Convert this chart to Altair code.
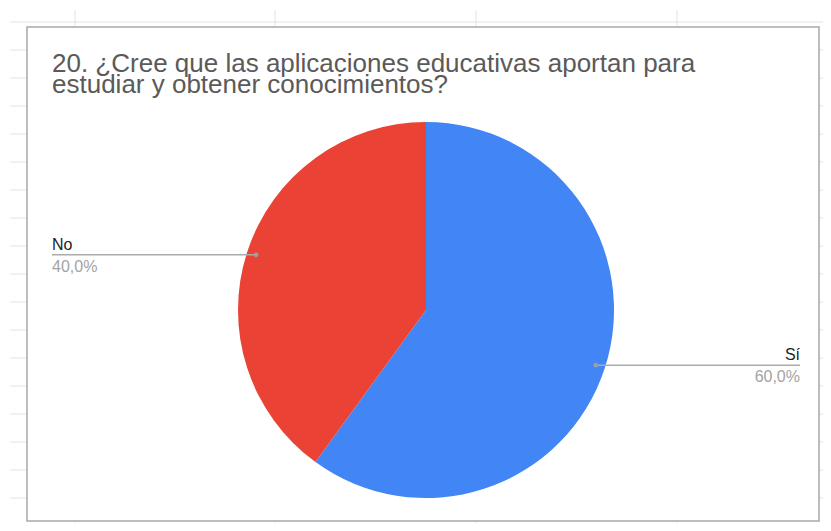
import altair as alt
import pandas as pd

# ---- data ----
respuestas = ["Sí", "No"]
valores = [60, 40]
orden = [0, 1]
colores = ["#4285F4", "#EA4335"]

titulo = ["20. ¿Cree que las aplicaciones educativas aportan para",
          "estudiar y obtener conocimientos?"]

# ---- layout (pixels, relative to the chart box) ----
W, H = 792, 494
CX, CY, R = 399, 283, 188
LX, RX = 25, 773
FONT = "Liberation Sans"

df = pd.DataFrame({"respuesta": respuestas, "valor": valores, "orden": orden})
df_titulo = pd.DataFrame({"t": ["\n".join(titulo)]})

grid_y = pd.DataFrame({"gy": [-5 + 28 * k for k in range(19)]})
grid_x = pd.DataFrame({"gx": [48, 248, 449, 650]})

hgrid = alt.Chart(grid_y).mark_rule(color="#e3e3e3", strokeWidth=1).encode(
    y=alt.Y("gy:Q", scale=None), x=alt.value(-17), x2=alt.value(W + 12))
vgrid = alt.Chart(grid_x).mark_rule(color="#e3e3e3", strokeWidth=1).encode(
    x=alt.X("gx:Q", scale=None), y=alt.value(-17), y2=alt.value(H + 12))
box = alt.Chart(df_titulo).mark_rect(fill="white", stroke="#a8a8a8", strokeWidth=1.5).encode(
    x=alt.value(0), x2=alt.value(W), y=alt.value(0), y2=alt.value(H))

title_txt = alt.Chart(df_titulo).mark_text(
    align="left", baseline="alphabetic", lineBreak="\n", lineHeight=20.5,
    fontSize=26, font=FONT, color="#5a5a5a").encode(
    x=alt.value(LX), y=alt.value(45), text="t:N")

base = alt.Chart(df)

pie = base.mark_arc(radius=R, stroke=None).encode(
    theta=alt.Theta("valor:Q", stack=True),
    color=alt.Color("respuesta:N", scale=alt.Scale(domain=respuestas, range=colores), legend=None),
    order=alt.Order("orden:Q"),
    x=alt.value(CX), y=alt.value(CY),
)

calc = base.transform_joinaggregate(total="sum(valor)").transform_window(
    cum="sum(valor)", sort=[alt.SortField("orden", order="ascending")]
).transform_calculate(
    ang="2*PI*(datum.cum - datum.valor/2)/datum.total"
).transform_calculate(
    px=f"{CX} + 0.95*{R}*sin(datum.ang)",
    py=f"{CY} - 0.95*{R}*cos(datum.ang)",
    ex=f"sin(datum.ang) < 0 ? {LX} : {RX}",
    izq="sin(datum.ang) < 0",
    pct="replace(format(datum.valor/datum.total, '.1%'), '.', ',')",
)

lines = calc.mark_rule(color="#ababab", strokeWidth=1.5).encode(
    x=alt.X("px:Q", scale=None), x2="ex:Q", y=alt.Y("py:Q", scale=None))
dots = calc.mark_circle(color="#9e9e9e", opacity=1, size=22).encode(
    x=alt.X("px:Q", scale=None), y=alt.Y("py:Q", scale=None))

def etiquetas(cond, align):
    sub = calc.transform_filter(cond)
    nombre = sub.mark_text(align=align, baseline="alphabetic", dy=-5, fontSize=16,
                           font=FONT, color="#222222").encode(
        x=alt.X("ex:Q", scale=None), y=alt.Y("py:Q", scale=None), text="respuesta:N")
    pct = sub.mark_text(align=align, baseline="top", dy=4, fontSize=16,
                        font=FONT, color="#a3a3a3").encode(
        x=alt.X("ex:Q", scale=None), y=alt.Y("py:Q", scale=None), text="pct:N")
    return nombre + pct

chart = alt.layer(
    hgrid, vgrid, box, title_txt, pie, lines, dots,
    etiquetas("datum.izq", "left"), etiquetas("!datum.izq", "right"),
).properties(
    width=W, height=H,
    autosize=alt.AutoSizeParams(type="none"),
    padding={"left": 19, "top": 19, "right": 4, "bottom": 2},
).configure_view(stroke=None)

chart.save("out.html", embed_options={"renderer": "svg", "actions": False})
